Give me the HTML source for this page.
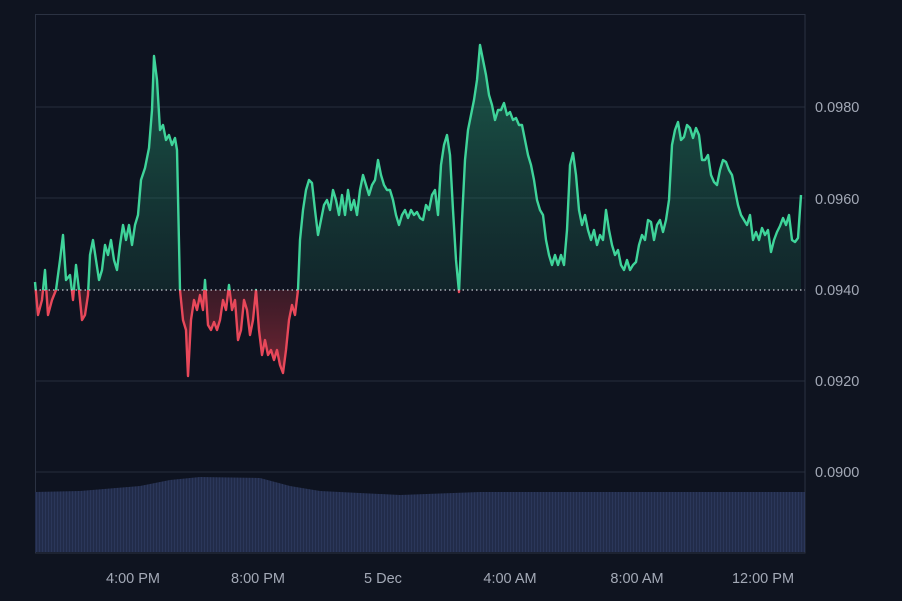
<!DOCTYPE html>
<html><head><style>
html,body{margin:0;padding:0;background:#0f1420;}
svg{display:block;}
text{font-family:"Liberation Sans",sans-serif;font-size:14.5px;fill:#a3a9b6;}
</style></head><body>
<svg width="902" height="601" viewBox="0 0 902 601" xmlns="http://www.w3.org/2000/svg">
<defs>
<linearGradient id="gg" x1="0" y1="40" x2="0" y2="290" gradientUnits="userSpaceOnUse">
<stop offset="0" stop-color="#2bb884" stop-opacity="0.45"/><stop offset="1" stop-color="#1d5f4c" stop-opacity="0.25"/></linearGradient>
<linearGradient id="rg" x1="0" y1="290" x2="0" y2="380" gradientUnits="userSpaceOnUse">
<stop offset="0" stop-color="#8a2834" stop-opacity="0.35"/><stop offset="1" stop-color="#c33545" stop-opacity="0.6"/></linearGradient>
<clipPath id="top"><rect x="0" y="0" width="902" height="290"/></clipPath>
<clipPath id="bot"><rect x="0" y="290" width="902" height="300"/></clipPath>
<pattern id="vp" width="3" height="100" patternUnits="userSpaceOnUse"><rect width="3" height="100" fill="#222c4a"/><rect width="1" height="100" fill="#2b375a"/></pattern>
<polyline id="p" points="35,282 38,315 42,300 45,270 48,315 52,300 56,290 60,260 63,235 66,280 70,275 73,300 76,265 79,290 82,320 85,315 88,295 90,255 93,240 96,260 99,280 102,270 105,245 108,255 111,240 114,260 117,270 120,245 123,225 126,240 129,225 132,245 135,225 138,215 141,180 145,168 149,148 152,110 154,56 157,80 160,130 163,125 166,140 169,135 172,145 175,138 177,150 180,290 183,320 186,330 188,376 191,320 194,300 197,310 200,295 203,310 205,280 208,325 211,330 214,322 217,330 220,320 223,300 226,310 229,285 232,310 235,300 238,340 241,330 244,300 247,310 250,335 253,320 256,290 259,330 262,355 265,340 268,355 271,350 274,360 277,350 280,365 283,373 286,350 289,320 292,305 295,315 298,290 300,240 303,210 306,190 309,180 312,183 315,210 318,235 321,220 324,205 327,200 330,210 333,190 336,200 339,215 342,195 345,215 348,190 351,210 354,200 357,215 360,190 363,175 366,185 369,195 372,185 375,180 378,160 381,175 384,185 387,190 390,190 393,200 396,215 399,225 402,215 405,210 408,218 411,210 414,215 417,212 420,218 423,220 426,205 429,210 432,195 435,190 438,215 441,165 444,145 447,135 450,155 453,210 456,260 459,292 462,220 465,160 468,130 471,115 474,100 477,80 480,45 483,60 486,75 489,95 492,105 495,120 498,110 501,110 504,103 507,115 510,112 513,120 516,118 519,125 522,125 525,140 528,155 531,165 534,180 537,200 540,210 543,215 546,240 549,255 552,265 555,255 558,265 561,255 564,265 567,230 570,165 573,153 576,175 579,210 582,225 585,215 588,230 591,240 594,230 597,245 600,235 603,240 606,210 609,230 612,245 615,255 618,250 621,265 624,270 627,260 630,270 633,265 636,262 639,245 642,235 645,240 648,220 651,222 654,240 657,225 660,220 663,232 666,220 669,200 672,145 675,130 678,122 681,140 684,137 687,125 690,128 693,138 696,128 699,135 702,160 705,160 708,155 711,175 714,182 717,185 720,170 723,160 726,162 729,170 732,175 735,190 738,205 741,215 744,220 747,225 750,215 753,240 756,232 759,240 762,228 765,235 768,230 771,252 774,240 777,232 780,226 783,218 786,225 789,215 792,240 795,242 798,238 801,195"/>
</defs>
<rect x="0" y="0" width="902" height="601" fill="#0f1420"/>
<rect x="35" y="14" width="770" height="539" fill="#0e1320"/>
<g stroke="#262d3d" stroke-width="1">
<line x1="35" y1="107" x2="805" y2="107"/>
<line x1="35" y1="198" x2="805" y2="198"/>
<line x1="35" y1="381" x2="805" y2="381"/>
<line x1="35" y1="472" x2="805" y2="472"/>
</g>
<rect x="35.5" y="14.5" width="769.5" height="538.5" fill="none" stroke="#2b3242"/>
<polygon fill="url(#vp)" points="35,492 80,491 140,486 170,480 200,477 260,478 290,486 320,491 400,495 480,492 805,492 805,552 35,552"/>
<g clip-path="url(#top)">
<polygon fill="url(#gg)" points="35,290 35,282 38,315 42,300 45,270 48,315 52,300 56,290 60,260 63,235 66,280 70,275 73,300 76,265 79,290 82,320 85,315 88,295 90,255 93,240 96,260 99,280 102,270 105,245 108,255 111,240 114,260 117,270 120,245 123,225 126,240 129,225 132,245 135,225 138,215 141,180 145,168 149,148 152,110 154,56 157,80 160,130 163,125 166,140 169,135 172,145 175,138 177,150 180,290 298,290 300,240 303,210 306,190 309,180 312,183 315,210 318,235 321,220 324,205 327,200 330,210 333,190 336,200 339,215 342,195 345,215 348,190 351,210 354,200 357,215 360,190 363,175 366,185 369,195 372,185 375,180 378,160 381,175 384,185 387,190 390,190 393,200 396,215 399,225 402,215 405,210 408,218 411,210 414,215 417,212 420,218 423,220 426,205 429,210 432,195 435,190 438,215 441,165 444,145 447,135 450,155 453,210 456,260 459,292 462,220 465,160 468,130 471,115 474,100 477,80 480,45 483,60 486,75 489,95 492,105 495,120 498,110 501,110 504,103 507,115 510,112 513,120 516,118 519,125 522,125 525,140 528,155 531,165 534,180 537,200 540,210 543,215 546,240 549,255 552,265 555,255 558,265 561,255 564,265 567,230 570,165 573,153 576,175 579,210 582,225 585,215 588,230 591,240 594,230 597,245 600,235 603,240 606,210 609,230 612,245 615,255 618,250 621,265 624,270 627,260 630,270 633,265 636,262 639,245 642,235 645,240 648,220 651,222 654,240 657,225 660,220 663,232 666,220 669,200 672,145 675,130 678,122 681,140 684,137 687,125 690,128 693,138 696,128 699,135 702,160 705,160 708,155 711,175 714,182 717,185 720,170 723,160 726,162 729,170 732,175 735,190 738,205 741,215 744,220 747,225 750,215 753,240 756,232 759,240 762,228 765,235 768,230 771,252 774,240 777,232 780,226 783,218 786,225 789,215 792,240 795,242 798,238 801,195 801,290"/>
<use href="#p" fill="none" stroke="#3fd49a" stroke-width="2.4" stroke-linejoin="round"/>
</g>
<g clip-path="url(#bot)">
<polygon fill="url(#rg)" points="35,290 35,282 38,315 42,300 45,270 48,315 52,300 56,290 60,260 63,235 66,280 70,275 73,300 76,265 79,290 82,320 85,315 88,295 90,290 180,290 183,320 186,330 188,376 191,320 194,300 197,310 200,295 203,310 205,280 208,325 211,330 214,322 217,330 220,320 223,300 226,310 229,285 232,310 235,300 238,340 241,330 244,300 247,310 250,335 253,320 256,290 259,330 262,355 265,340 268,355 271,350 274,360 277,350 280,365 283,373 286,350 289,320 292,305 295,315 298,290"/>
<use href="#p" fill="none" stroke="#e8485a" stroke-width="2.4" stroke-linejoin="round"/>
</g>
<line x1="35" y1="290" x2="805" y2="290" stroke="#c9ccd4" stroke-width="1.2" stroke-dasharray="1.5 3"/>
<text x="815" y="112">0.0980</text>
<text x="815" y="204">0.0960</text>
<text x="815" y="295">0.0940</text>
<text x="815" y="386">0.0920</text>
<text x="815" y="477">0.0900</text>
<g text-anchor="middle">
<text x="133" y="583">4:00 PM</text>
<text x="258" y="583">8:00 PM</text>
<text x="383" y="583">5 Dec</text>
<text x="510" y="583">4:00 AM</text>
<text x="637" y="583">8:00 AM</text>
<text x="763" y="583">12:00 PM</text>
</g>
</svg>
</body></html>
